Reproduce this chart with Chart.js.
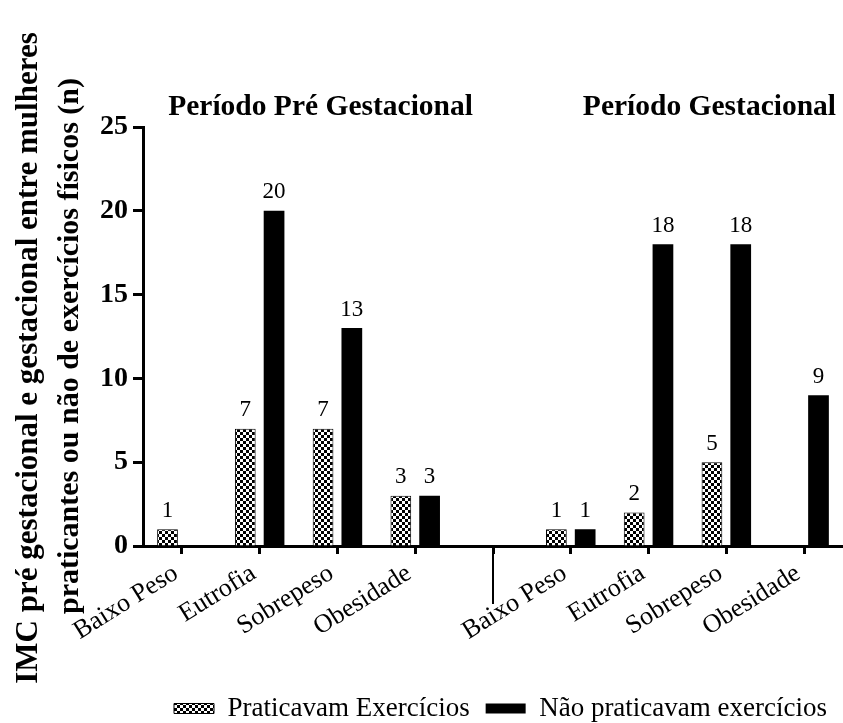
<!DOCTYPE html>
<html>
<head>
<meta charset="utf-8">
<script src="https://cdn.jsdelivr.net/npm/chart.js@4.4.1/dist/chart.umd.min.js"></script>
<style>
  html, body { margin: 0; padding: 0; background: #fff; }
  #wrap { width: 843px; height: 723px; position: relative; }
</style>
</head>
<body>
<div id="wrap"><canvas id="imcChart"></canvas></div>
<script>
// =============================
// Data
// =============================

const categories = ["Baixo Peso", "Eutrofia", "Sobrepeso", "Obesidade", "",
                    "Baixo Peso", "Eutrofia", "Sobrepeso", "Obesidade"];

const praticavam = [1, 7, 7, 3, null, 1, 2, 5, null];
const naoPraticavam = [null, 20, 13, 3, null, 1, 18, 18, 9];

const yTicks = [0, 5, 10, 15, 20, 25];

const seriesNames = ["Praticavam Exercícios", "Não praticavam exercícios"];
const periodTitles = ["Período Pré Gestacional", "Período Gestacional"];
const yTitleLines = ["IMC pré gestacional e gestacional entre mulheres",
                     "praticantes ou não de exercícios físicos (n)"];

const SERIF = "'Liberation Serif', 'Times New Roman', serif";


// =============================
// Checkered fill
// =============================

function makeChecker() {
    const c = document.createElement("canvas");
    c.width = 6;
    c.height = 6;
    const g = c.getContext("2d");
    g.fillStyle = "#fff";
    g.fillRect(0, 0, 6, 6);
    g.fillStyle = "#000";
    g.fillRect(0, 0, 3, 3);
    g.fillRect(3, 3, 3, 3);
    return g.createPattern(c, "repeat");
}

const checker = makeChecker();


// =============================
// Extra drawing: titles, values, separator
// =============================

const extras = {
    id: "extras",
    afterDraw(chart) {
        const ctx = chart.ctx;
        const x = chart.scales.x;
        const area = chart.chartArea;

        ctx.save();
        ctx.fillStyle = "#000";

        // period titles
        ctx.font = "bold 29.5px " + SERIF;
        ctx.textAlign = "center";
        ctx.textBaseline = "alphabetic";
        ctx.fillText(periodTitles[0], x.getPixelForValue(1.5) + 22, 115);
        ctx.fillText(periodTitles[1], x.getPixelForValue(6.5) + 22, 115);

        // value labels
        ctx.font = "23px " + SERIF;
        ctx.textBaseline = "bottom";
        chart.data.datasets.forEach((ds, i) => {
            chart.getDatasetMeta(i).data.forEach((bar, j) => {
                const v = ds.data[j];
                if (v == null) return;
                ctx.fillText(String(v), bar.x, bar.y - 7);
            });
        });

        // separator between periods
        const sx = x.getPixelForValue(4);
        ctx.strokeStyle = "#000";
        ctx.lineWidth = 2;
        ctx.beginPath();
        ctx.moveTo(sx, area.bottom);
        ctx.lineTo(sx, area.bottom + 58);
        ctx.stroke();

        // y title (two lines)
        ctx.textAlign = "center";
        ctx.textBaseline = "alphabetic";
        [[37, 358, 31], [78, 346, 30]].forEach(([bx, cy, size], i) => {
            ctx.save();
            ctx.font = "bold " + size + "px " + SERIF;
            ctx.translate(bx, cy);
            ctx.rotate(-Math.PI / 2);
            ctx.fillText(yTitleLines[i], 0, 0);
            ctx.restore();
        });

        ctx.restore();
    }
};


// =============================
// Chart
// =============================

new Chart(document.getElementById("imcChart"), {

    type: "bar",

    data: {
        labels: categories,
        datasets: [
            {
                label: seriesNames[0],
                data: praticavam,
                backgroundColor: checker,
                borderColor: "#000",
                borderWidth: 1
            },
            {
                label: seriesNames[1],
                data: naoPraticavam,
                backgroundColor: "#000",
                borderColor: "#000",
                borderWidth: 0
            }
        ]
    },

    options: {
        responsive: true,
        maintainAspectRatio: false,
        animation: false,
        categoryPercentage: 0.74,
        barPercentage: 0.72,
        layout: {
            padding: { top: 127, right: 0, bottom: -9, left: 0 }
        },
        plugins: {
            tooltip: { enabled: false },
            legend: {
                position: "bottom",
                align: "end",
                labels: {
                    color: "#000",
                    boxWidth: 40,
                    boxHeight: 10,
                    padding: 16,
                    font: { family: SERIF, size: 27, lineHeight: 1 }
                }
            }
        },
        scales: {
            x: {
                afterFit(scale) { scale.height = 133; },
                grid: {
                    display: true,
                    offset: false,
                    drawOnChartArea: false,
                    tickLength: 8,
                    tickWidth: 3,
                    color: "#000"
                },
                border: { display: true, width: 3, color: "#000" },
                ticks: {
                    autoSkip: false,
                    minRotation: 32,
                    maxRotation: 32,
                    padding: 4,
                    labelOffset: -6,
                    color: "#000",
                    font: { family: SERIF, size: 26 }
                }
            },
            y: {
                min: 0,
                max: 25,
                afterFit(scale) { scale.width = 143; },
                afterBuildTicks(scale) {
                    scale.ticks = yTicks.map(v => ({ value: v }));
                },
                grid: {
                    display: true,
                    drawOnChartArea: false,
                    tickLength: 10,
                    tickWidth: 3,
                    color: "#000"
                },
                border: { display: true, width: 3, color: "#000" },
                ticks: {
                    padding: 5,
                    color: "#000",
                    font: { family: SERIF, size: 28, weight: "bold" }
                }
            }
        }
    },

    plugins: [extras]

});
</script>
</body>
</html>
